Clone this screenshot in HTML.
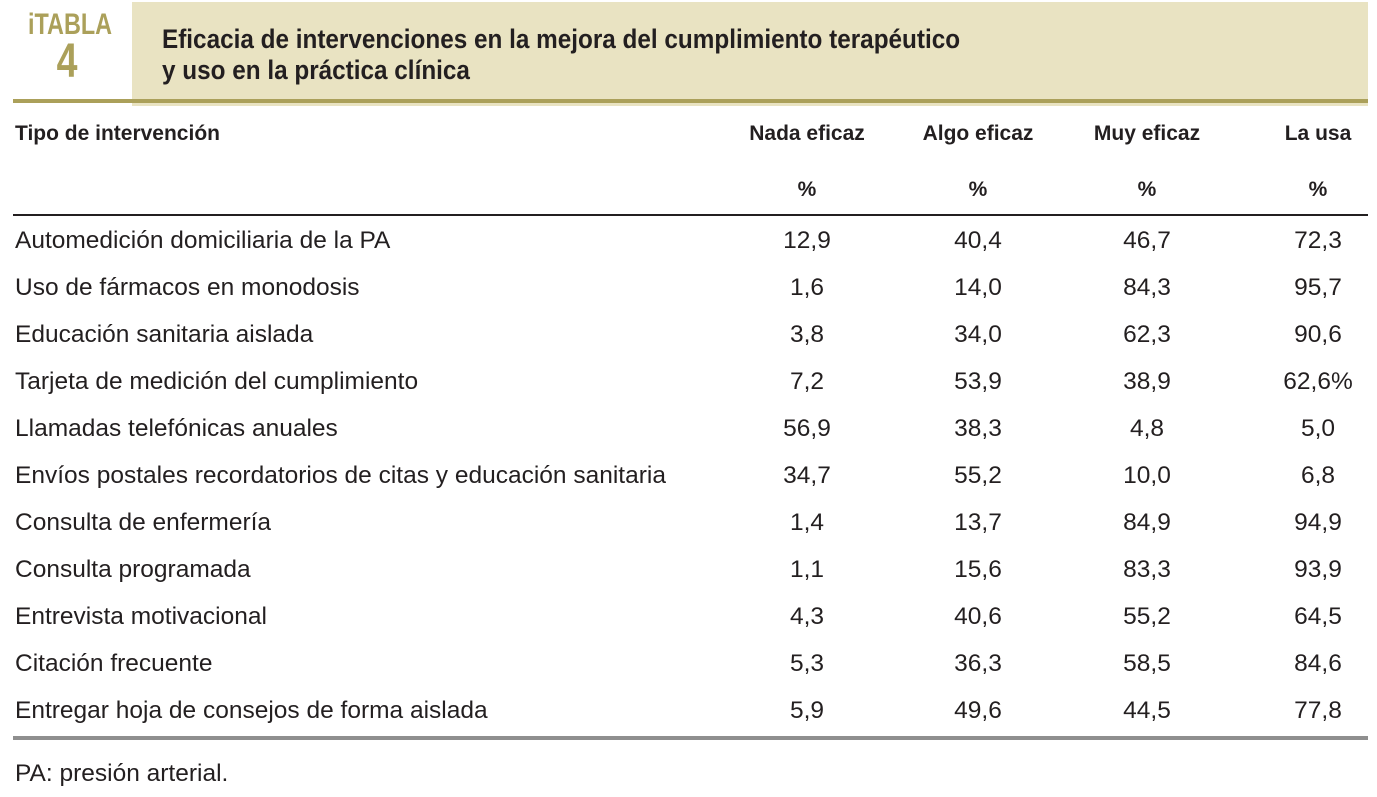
<!DOCTYPE html>
<html><head><meta charset="utf-8"><style>
body{margin:0;width:1377px;height:797px;background:#fff;position:relative;overflow:hidden;font-family:"Liberation Sans Narrow","Liberation Sans",sans-serif;color:#231f20}
.a{position:absolute;white-space:nowrap}
.hb{position:absolute;left:132px;top:2px;width:1236px;height:104px;background:#e9e3c2}
.gl{position:absolute;left:13px;top:99px;width:1355px;height:4px;background:#aba05a}
.tab{color:#aba05a;font-weight:bold;text-align:center;width:100px;left:17px;transform:scaleX(0.78)}
.t{font-weight:bold;font-size:27px;left:162px;transform:scaleX(0.9);transform-origin:0 0}
.h{font-weight:bold;font-size:21px}
.c{text-align:center;width:160px;margin-left:-80px}
.r{font-size:24.5px}
</style></head><body>
<div class="hb"></div>
<div class="gl"></div>
<div class="a tab" style="top:8px;font-size:30px">iTABLA</div>
<div class="a tab" style="top:34px;font-size:48px">4</div>
<div class="a t" style="top:24px">Eficacia de intervenciones en la mejora del cumplimiento terapéutico</div>
<div class="a t" style="top:55px">y uso en la práctica clínica</div>
<div class="a h" style="left:15px;top:122px">Tipo de intervención</div>
<div class="a" style="left:13px;top:214px;width:1355px;height:1.5px;background:#231f20"></div>
<div class="a" style="left:13px;top:736px;width:1355px;height:4px;background:#8f8f8f"></div>
<div class="a r" style="left:15px;top:760px">PA: presión arterial.</div>
<script>
const cols=["Nada eficaz","Algo eficaz","Muy eficaz","La usa"];
const colX=[807,978,1147,1318];
const names=["Automedición domiciliaria de la PA","Uso de fármacos en monodosis","Educación sanitaria aislada","Tarjeta de medición del cumplimiento","Llamadas telefónicas anuales","Envíos postales recordatorios de citas y educación sanitaria","Consulta de enfermería","Consulta programada","Entrevista motivacional","Citación frecuente","Entregar hoja de consejos de forma aislada"];
const nada=["12,9","1,6","3,8","7,2","56,9","34,7","1,4","1,1","4,3","5,3","5,9"];
const algo=["40,4","14,0","34,0","53,9","38,3","55,2","13,7","15,6","40,6","36,3","49,6"];
const muy=["46,7","84,3","62,3","38,9","4,8","10,0","84,9","83,3","55,2","58,5","44,5"];
const usa=["72,3","95,7","90,6","62,6%","5,0","6,8","94,9","93,9","64,5","84,6","77,8"];
const body=document.body;
cols.forEach((c,i)=>{
 const d=document.createElement('div');d.className='a h c';d.style.left=colX[i]+'px';d.style.top='122px';d.textContent=c;
 
 
 body.appendChild(d);
 const p=document.createElement('div');p.className='a h c';p.style.left=colX[i]+'px';p.style.top='178px';p.textContent='%';
 
 
 body.appendChild(p);
});
const series=[nada,algo,muy,usa];
names.forEach((n,r)=>{
 const y=227+r*47;
 const d=document.createElement('div');d.className='a r';d.style.left='15px';d.style.top=y+'px';d.textContent=n;
 
 
 body.appendChild(d);
 series.forEach((s,i)=>{
  const v=document.createElement('div');v.className='a r c';v.style.left=colX[i]+'px';v.style.top=y+'px';v.textContent=s[r];
  
  
  body.appendChild(v);
 });
});
</script>
</body></html>
